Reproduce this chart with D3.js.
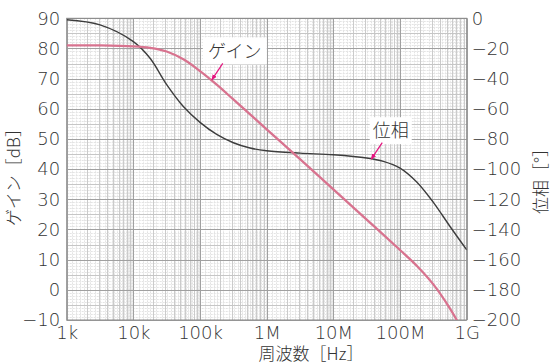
<!DOCTYPE html>
<html>
<head>
<meta charset="utf-8">
<script src="https://cdn.jsdelivr.net/npm/d3@7"></script>
<style>
  body { margin: 0; background: #fff; }
  svg text { font-family: "DejaVu Sans", "Noto Sans CJK JP", sans-serif; font-weight: 200; fill: #333; }
  svg text.jp { font-family: "Noto Sans CJK JP", sans-serif; font-weight: 300; }
</style>
</head>
<body>
<div id="chart"></div>
<script>
	// values
	const gainFreq = [1e3, 3.16e3, 1e4, 1.78e4, 3.16e4, 5.62e4, 1e5, 1.78e5, 3.16e5, 1e6, 3.16e6, 1e7, 3.16e7, 1e8, 1.78e8, 3.16e8, 5.62e8, 7.08e8, 8.9e8];
	const gainDb   = [81, 81, 80.7, 80.2, 79.0, 76.4, 72.5, 68.0, 63.1, 53.2, 43.3, 33.3, 23.3, 13.2, 8.0, 1.8, -6.2, -10, -14.5];
	const phaseFreq = [1e3, 3.16e3, 1e4, 1.78e4, 3.16e4, 5.62e4, 1e5, 1.78e5, 3.16e5, 5.62e5, 1e6, 3.16e6, 1e7, 3.16e7, 5.62e7, 1e8, 1.78e8, 3.16e8, 5.62e8, 1e9];
	const phaseDeg  = [-1, -4.4, -15.5, -26.5, -44, -58.5, -69, -77, -82.5, -86, -87.8, -89.4, -90.5, -92.6, -94.8, -99.3, -108.5, -122, -138, -153.5];

	const xTickValues = [1e3, 1e4, 1e5, 1e6, 1e7, 1e8, 1e9];
	const xTickLabels = ["1k", "10k", "100k", "1M", "10M", "100M", "1G"];
	const gainTicks = [90, 80, 70, 60, 50, 40, 30, 20, 10, 0, -10];
	const phaseTicks = [0, -20, -40, -60, -80, -100, -120, -140, -160, -180, -200];

	const gainNote = {f: 1.5e5, v: 69.6, text: "ゲイン"};
	const phaseNote = {f: 3.7e7, v: -93.4, text: "位相"};

	/*============= layout ===============*/
	const W = 554, H = 364;
	const m = {left: 66.7, right: 87.3, top: 18.3, bottom: 44};
	const x0 = m.left, x1 = W - m.right, y0 = m.top, y1 = H - m.bottom;

	const svg = d3.select("#chart").append("svg").attr("width", W).attr("height", H);

	const x = d3.scaleLog().domain([1e3, 1e9]).range([x0, x1]);
	const yG = d3.scaleLinear().domain([-10, 90]).range([y1, y0]);
	const yP = d3.scaleLinear().domain([-200, 0]).range([y1, y0]);
	const minus = s => String(s).replace("-", "\u2212");

	/*============= grid ===============*/
	const grid = svg.append("g");
	const vFine = [], vMinor = [], vMajor = [];
	for (let e = 3; e < 9; e++) {
		const b = Math.pow(10, e);
		vMajor.push(b);
		for (let k = 2; k <= 9; k++) vMinor.push(k * b);
		for (let k = 1.2; k < 10; k += (k < 2 ? 0.2 : 0.5)) {
			const kk = Math.round(k * 10) / 10;
			if (kk % 1 !== 0) vFine.push(kk * b);
		}
	}
	vMajor.push(1e9);
	const hFine = d3.range(-10, 90.01, 1).filter(d => d % 5 !== 0);
	const hMinor = d3.range(-5, 90, 10);
	const hMajor = d3.range(-10, 90.01, 10);

	const vline = (vals, color, dash, w) => grid.selectAll(null).data(vals).join("line")
		.attr("x1", d => Math.round(x(d)) + 0.5).attr("x2", d => Math.round(x(d)) + 0.5)
		.attr("y1", y0).attr("y2", y1)
		.attr("stroke", color).attr("stroke-width", w).attr("stroke-dasharray", dash);
	const hline = (vals, color, dash, w) => grid.selectAll(null).data(vals).join("line")
		.attr("y1", d => Math.round(yG(d)) + 0.5).attr("y2", d => Math.round(yG(d)) + 0.5)
		.attr("x1", x0).attr("x2", x1)
		.attr("stroke", color).attr("stroke-width", w).attr("stroke-dasharray", dash);

	vline(vFine, "#e4e4e4", "2,1", 1);
	hline(hFine, "#e4e4e4", "2,1", 1);
	vline(vMinor, "#cbcbcb", null, 1);
	hline(hMinor, "#c6c6c6", null, 1);
	hline(hMajor, "#a0a0a0", null, 1);
	vline(vMajor, "#a0a0a0", null, 1);

	svg.append("rect").attr("x", x0).attr("y", y0).attr("width", x1 - x0).attr("height", y1 - y0)
		.attr("fill", "none").attr("stroke", "#8a8a8a").attr("stroke-width", 1);

	/*============= curves ===============*/
	svg.append("clipPath").attr("id", "plot").append("rect")
		.attr("x", x0).attr("y", y0).attr("width", x1 - x0).attr("height", y1 - y0);

	const gainLine = d3.line().x(d => x(d[0])).y(d => yG(d[1])).curve(d3.curveCatmullRom.alpha(0.5));
	const phaseLine = d3.line().x(d => x(d[0])).y(d => yP(d[1])).curve(d3.curveCatmullRom.alpha(0.5));

	svg.append("path").attr("clip-path", "url(#plot)")
		.attr("d", phaseLine(d3.zip(phaseFreq, phaseDeg)))
		.attr("fill", "none").attr("stroke", "#3d3d3d").attr("stroke-width", 1.4);
	svg.append("path").attr("clip-path", "url(#plot)")
		.attr("d", gainLine(d3.zip(gainFreq, gainDb)))
		.attr("fill", "none").attr("stroke", "#d8738f").attr("stroke-width", 2.3);

	/*============= annotations ===============*/
	svg.append("defs").append("marker").attr("id", "arr")
		.attr("viewBox", "0 0 10 10").attr("refX", 9).attr("refY", 5)
		.attr("markerWidth", 5).attr("markerHeight", 5).attr("orient", "auto")
		.append("path").attr("d", "M0,1 L10,5 L0,9 z").attr("fill", "#e4157f");

	function note(n, yScale, dx, dy, bw) {
		const px = x(n.f), py = yScale(n.v);
		const tx = px + dx, ty = py + dy;
		svg.append("rect").attr("x", tx - bw / 2).attr("y", ty - 14).attr("width", bw).attr("height", 27)
			.attr("fill", "#fff");
		svg.append("text").attr("class", "jp").attr("x", tx).attr("y", ty).attr("dy", "0.35em")
			.attr("text-anchor", "middle").attr("font-size", 18).text(n.text);
		svg.append("line").attr("x1", px + 11).attr("y1", py - 16.5).attr("x2", px).attr("y2", py)
			.attr("stroke", "#e4157f").attr("stroke-width", 1.2).attr("marker-end", "url(#arr)");
	}
	note(gainNote, yG, 23, -28.5, 64);
	note(phaseNote, yP, 19.5, -28, 42);

	/*============= axes ===============*/
	const axisStyle = g => {
		g.select(".domain").remove();
		g.selectAll("line").remove();
		g.attr("font-family", null).attr("font-size", null);
		g.selectAll("text").attr("font-size", 18).attr("fill", "#333");
	};

	svg.append("g").attr("transform", `translate(${x0},0)`)
		.call(d3.axisLeft(yG).tickValues(gainTicks).tickSize(0).tickPadding(6.5).tickFormat(minus))
		.call(axisStyle);
	svg.append("g").attr("transform", `translate(${x1},0)`)
		.call(d3.axisRight(yP).tickValues(phaseTicks).tickSize(0).tickPadding(5).tickFormat(minus))
		.call(axisStyle);
	svg.append("g").attr("transform", `translate(0,${y1})`)
		.call(d3.axisBottom(x).tickValues(xTickValues).tickSize(0).tickPadding(6)
			.tickFormat((d, i) => xTickLabels[i]))
		.call(axisStyle);

	svg.append("text").attr("class", "jp").attr("transform", "translate(14,173) rotate(-90)")
		.attr("text-anchor", "middle").attr("dy", "0.35em").attr("font-size", 17).text("ゲイン［dB］");
	svg.append("text").attr("class", "jp").attr("transform", "translate(541,177) rotate(-90)")
		.attr("text-anchor", "middle").attr("dy", "0.35em").attr("font-size", 17).text("位相［°］");
	svg.append("text").attr("class", "jp").attr("x", 311).attr("y", 354.5).attr("dy", "0.35em")
		.attr("text-anchor", "middle").attr("font-size", 17).text("周波数［Hz］");
</script>
</body>
</html>
